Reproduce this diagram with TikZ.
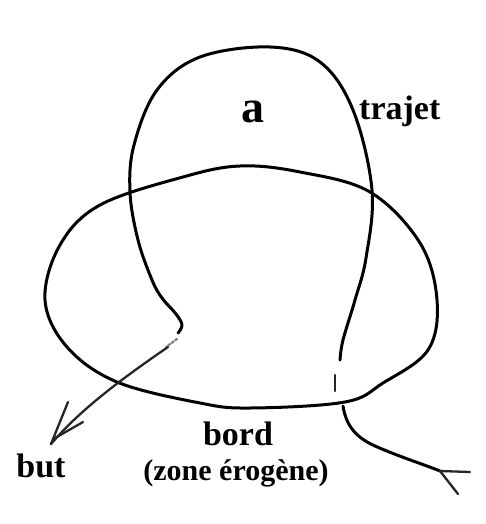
\documentclass[tikz,border=0pt]{standalone}
\usepackage{fontspec}
\setmainfont{Liberation Serif}
\begin{document}
\begin{tikzpicture}[x=1pt,y=-1pt,
  stroke/.style={line width=3pt,line cap=round,line join=round,black},
  thin stroke/.style={line width=2.3pt,line cap=round,black!85},
  lbl/.style={font=\bfseries\fontsize{34}{40}\selectfont,anchor=base,inner sep=0pt}]
\useasboundingbox (0,0) rectangle (486,524);
% the rim (bord)
\draw[stroke] plot[smooth cycle,tension=0.6] coordinates {
  (45,300) (60,245) (100,205) (183,177) (240,166) (300,172) (370,192)
  (420,243) (437,300) (428,350) (383,383) (345,402) (250,408) (200,403)
  (117,382) (67,347)};
% the path (trajet)
\draw[stroke] plot[smooth,tension=0.6] coordinates {
  (178,333) (182,325) (176,314) (162,298) (152,280) (138,240) (130,192)
  (134,145) (157,90) (200,57) (270,47) (320,62) (353,110) (372,190)
  (366,258) (355,300) (343,340) (340,360)};
% broken bit on the right leg
\draw[thin stroke] (335,375) -- (335,391);
% faint dots near the left hook
\draw[thin stroke,black!50,dotted] (177,339) -- (166,347);
% arrow to "but"
\coordinate (butstart) at (168,347);
\coordinate (buttip) at (51,444);
\draw[thin stroke] (butstart) .. controls (120,380) and (80,410) .. (buttip);
\draw[thin stroke] (buttip) -- (68,402);
\draw[thin stroke] (55,438) -- (83,422);
% outgoing tail at the lower right
\coordinate (tailstart) at (343,406);
\coordinate (tailend) at (440,471);
\draw[stroke] (tailstart) .. controls (346,425) and (355,437) .. (375,446)
  .. controls (400,457) and (420,463) .. (tailend);
\draw[thin stroke] (tailend) -- (470,472);
\draw[thin stroke] (tailend) -- (458,494);
% labels
\node[lbl,font=\bfseries\fontsize{46}{50}\selectfont] (a) at (253,122) {a};
\node[lbl,anchor=base west] (trajet) at (359,120) {trajet};
\node[lbl] (bord) at (238,445) {bord};
\node[lbl,font=\bfseries\fontsize{30}{36}\selectfont] (zone) at (236,480) {(zone érogène)};
\node[lbl] (but) at (41,477) {but};
\end{tikzpicture}
\end{document}
